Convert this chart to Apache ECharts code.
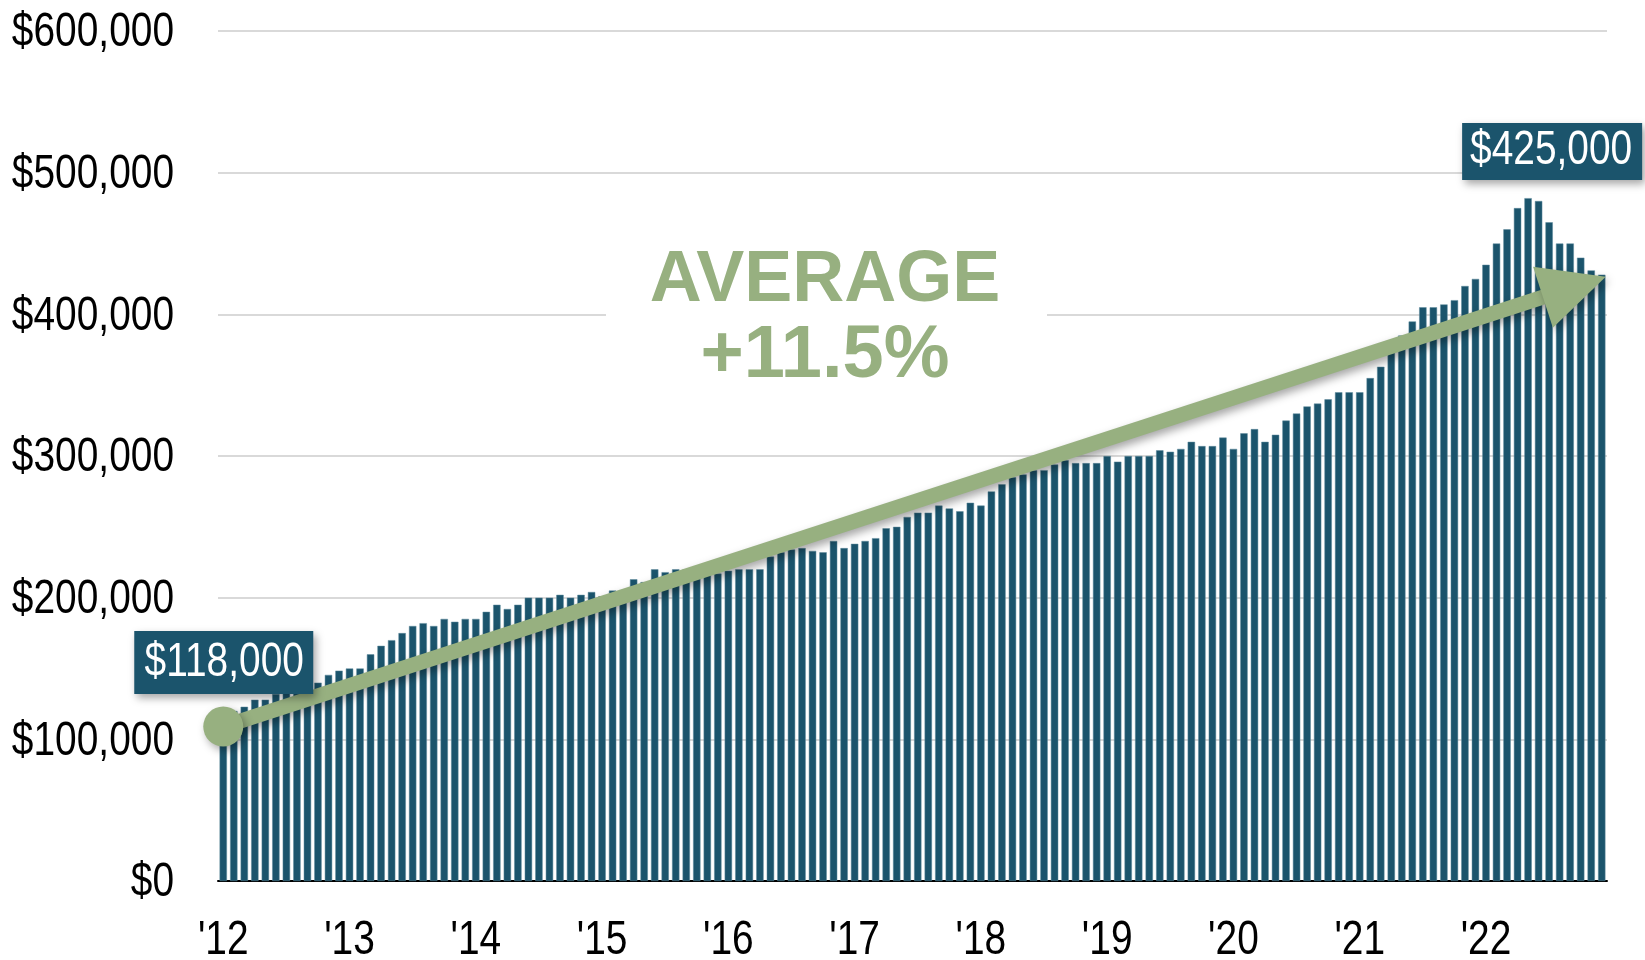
<!DOCTYPE html>
<html>
<head>
<meta charset="utf-8">
<script src="https://cdn.jsdelivr.net/npm/echarts@6/dist/echarts.min.js"></script>
<style>
html, body { margin: 0; padding: 0; background: #fff; }
#main { width: 1645px; height: 960px; }
</style>
</head>
<body>
<div id="main"></div>
<script>
// monthly median price, Jan..Dec for each year
const years = ['2012', '2013', '2014', '2015', '2016', '2017', '2018', '2019', '2020', '2021', '2022'];
const yearLabels = ["'12", "'13", "'14", "'15", "'16", "'17", "'18", "'19", "'20", "'21", "'22"];
const yTicks = [0, 100000, 200000, 300000, 400000, 500000, 600000];
const p2012 = [118000, 120000, 123000, 128000, 128000, 132000, 133000, 135000, 138000, 140000, 145500, 148500];
const p2013 = [150000, 150000, 160000, 166000, 170000, 175000, 180000, 182000, 180000, 185000, 183000, 185000];
const p2014 = [185000, 190000, 195000, 192000, 195000, 200000, 200000, 200000, 202000, 200000, 202000, 204000];
const p2015 = [201000, 205000, 205000, 213000, 211000, 220000, 218000, 220000, 220000, 221000, 222000, 217000];
const p2016 = [219000, 220000, 220000, 220000, 229000, 232000, 234000, 235000, 233000, 232000, 240000, 235000];
const p2017 = [238000, 240000, 242000, 249000, 250000, 257000, 260000, 260000, 265000, 263000, 261000, 267000];
const p2018 = [265000, 275000, 280000, 285000, 287000, 290000, 290000, 294000, 297000, 295000, 295000, 295000];
const p2019 = [300000, 296000, 300000, 300000, 300000, 304000, 303000, 305000, 310000, 307000, 307000, 313000];
const p2020 = [305000, 316000, 319000, 310000, 315000, 325000, 330000, 335000, 337000, 340000, 345000, 345000];
const p2021 = [345000, 355000, 363000, 373000, 385000, 395000, 405000, 405000, 407000, 410000, 420000, 425000];
const p2022 = [435000, 450000, 460000, 475000, 482000, 480000, 465000, 450000, 450000, 440000, 431000, 428000];

const firstLabel = '$118,000';
const lastLabel = '$425,000';
const avgTitle = 'AVERAGE';
const avgValue = '+11.5%';

const byYear = [p2012, p2013, p2014, p2015, p2016, p2017, p2018, p2019, p2020, p2021, p2022];
const months = [];
const values = [];
years.forEach(function (y, yi) {
    byYear[yi].forEach(function (v, m) {
        months.push(y + '-' + String(m + 1).padStart(2, '0'));
        values.push(v);
    });
});

const BLUE = '#1b546c';
const GREEN = '#97b080';
const chart = echarts.init(document.getElementById('main'));

chart.setOption({
    animation: false,
    backgroundColor: '#fff',
    grid: { left: 218, right: 38, top: 31, bottom: 79, outerBoundsMode: 'none' },
    xAxis: {
        type: 'category',
        data: months,
        axisTick: { show: false },
        axisLine: { lineStyle: { color: '#000', width: 2 } },
        axisLabel: { show: false }
    },
    yAxis: {
        type: 'value',
        min: 0,
        max: 600000,
        interval: 100000,
        axisLine: { show: false },
        axisTick: { show: false },
        splitLine: { lineStyle: { color: '#d9d9d9', width: 2 } },
        axisLabel: { show: false }
    },
    series: [{
        type: 'bar',
        data: values,
        barCategoryGap: '30%',
        itemStyle: { color: BLUE, borderColor: '#5f8a9c', borderWidth: 0.5 }
    }]
});

// Arial Narrow look: Liberation Sans squeezed horizontally
function narrowText(text, x, y, align, color, z) {
    return {
        type: 'text', z: z || 10, x: x, y: y, scaleX: 0.81,
        style: { text: text, x: 0, y: 0, align: align, verticalAlign: 'middle', fill: color, font: '48px "Liberation Sans"' }
    };
}

const fmt = function (v) { return '$' + v.toLocaleString('en-US'); };
const labels = [];
yTicks.forEach(function (v) {
    const py = chart.convertToPixel({ yAxisIndex: 0 }, v);
    labels.push(narrowText(fmt(v), 174, py + 2, 'right', '#000'));
});
yearLabels.forEach(function (t, i) {
    const px = chart.convertToPixel({ xAxisIndex: 0 }, i * 12);
    labels.push(narrowText(t, px, 941, 'center', '#000'));
});

// annotation positions from the chart's scales
const pStart = chart.convertToPixel({ seriesIndex: 0 }, [0, 109000]);
const pEnd = chart.convertToPixel({ seriesIndex: 0 }, [131, 426500]);
const tip = [pEnd[0] + 4, pEnd[1]];
const dx = tip[0] - pStart[0], dy = tip[1] - pStart[1];
const len = Math.sqrt(dx * dx + dy * dy);
const ux = dx / len, uy = dy / len;
const headLen = 66, headHalf = 32;
const base = [tip[0] - ux * headLen, tip[1] - uy * headLen];
const c1 = [base[0] - uy * headHalf, base[1] + ux * headHalf];
const c2 = [base[0] + uy * headHalf, base[1] - ux * headHalf];

const firstTop = chart.convertToPixel({ seriesIndex: 0 }, [0, 132000]);
const lastPos = chart.convertToPixel({ seriesIndex: 0 }, [126, 500000]);

const shadow = { shadowBlur: 8, shadowOffsetX: 3, shadowOffsetY: 4, shadowColor: 'rgba(0,0,0,0.35)' };

chart.setOption({
    graphic: labels.concat([
        // white backdrop behind the average text
        { type: 'rect', z: 50, shape: { x: 606, y: 240, width: 441, height: 160 }, style: { fill: '#fff' } },
        { type: 'text', z: 51, style: { text: avgTitle, x: 825, y: 281, align: 'center', verticalAlign: 'middle', fill: GREEN, font: 'bold 72px "Liberation Sans"' } },
        { type: 'text', z: 51, style: { text: avgValue, x: 825, y: 357, align: 'center', verticalAlign: 'middle', fill: GREEN, font: 'bold 74px "Liberation Sans"' } },
        // arrow
        { type: 'line', z: 60, shape: { x1: pStart[0], y1: pStart[1], x2: base[0] + ux * 4, y2: base[1] + uy * 4 }, style: Object.assign({ stroke: GREEN, lineWidth: 15 }, shadow) },
        { type: 'polygon', z: 61, shape: { points: [tip, c1, c2] }, style: Object.assign({ fill: GREEN }, shadow) },
        { type: 'circle', z: 61, shape: { cx: pStart[0], cy: pStart[1], r: 20 }, style: Object.assign({ fill: GREEN }, shadow) },
        // value labels
        { type: 'rect', z: 70, shape: { x: firstTop[0] - 89, y: firstTop[1] - 63, width: 179, height: 63 }, style: Object.assign({ fill: BLUE }, shadow) },
        narrowText(firstLabel, firstTop[0] + 1, firstTop[1] - 31, 'center', '#fff', 71),
        { type: 'rect', z: 70, shape: { x: lastPos[0] - 87, y: 123, width: 180, height: 57 }, style: Object.assign({ fill: BLUE }, shadow) },
        narrowText(lastLabel, lastPos[0] + 2, 151, 'center', '#fff', 71)
    ])
});
</script>
</body>
</html>
